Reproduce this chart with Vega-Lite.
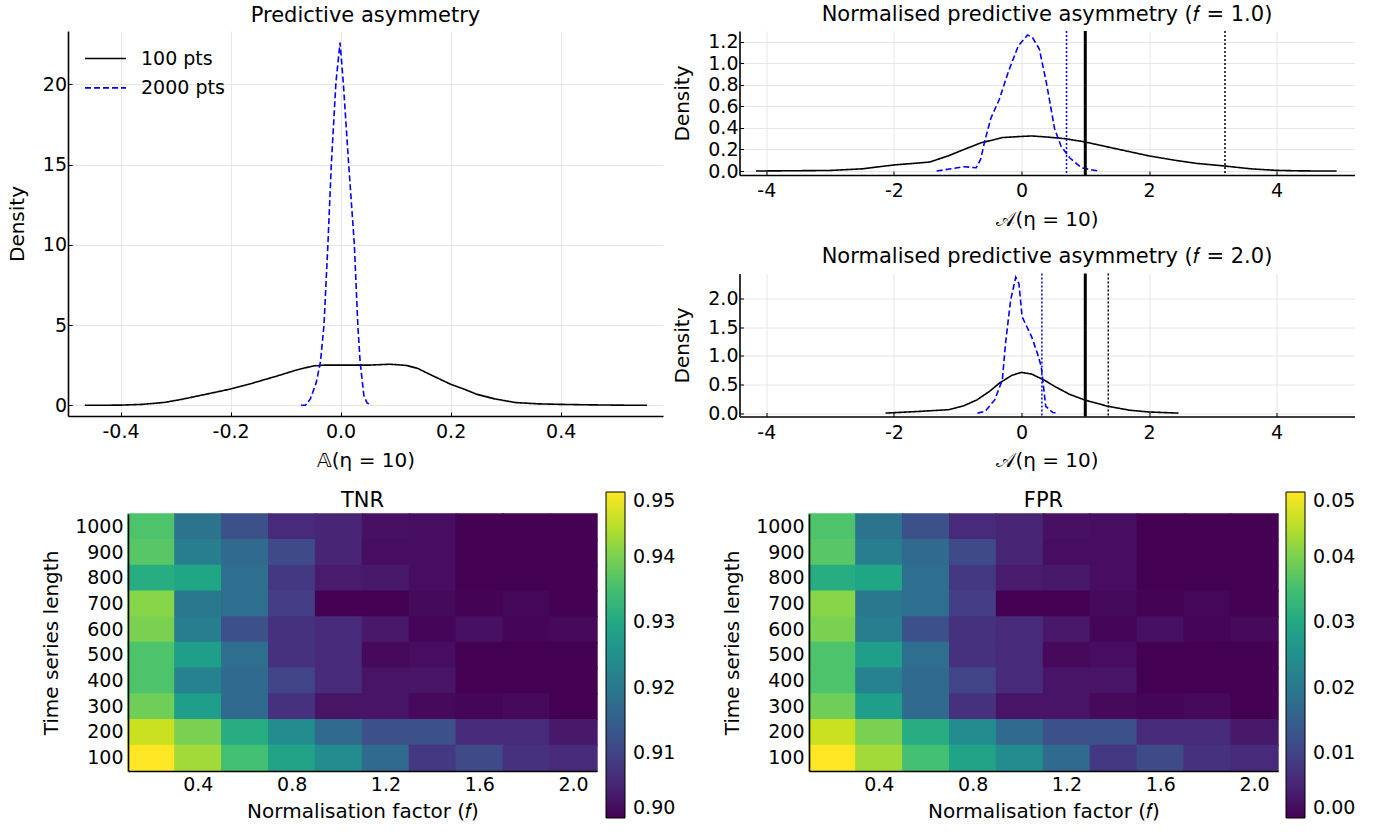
{
  "$schema": "https://vega.github.io/schema/vega-lite/v6.json",
  "background": "white",
  "padding": {"left": 7, "top": 3, "right": 0, "bottom": 0},
  "config": {
    "font": "DejaVu Sans",
    "view": {"stroke": null},
    "axis": {
      "labelFont": "DejaVu Sans", "titleFont": "DejaVu Sans",
      "labelFontSize": 19, "titleFontSize": 20, "titleFontWeight": "normal",
      "labelColor": "black", "titleColor": "black",
      "domainColor": "black", "domainWidth": 1.6,
      "tickColor": "black", "tickSize": -4, "tickWidth": 1,
      "gridColor": "#e6e6e6", "gridWidth": 1,
      "labelFlush": false, "labelOverlap": false
    },
    "axisX": {"labelPadding": 10.5, "titlePadding": 8.5},
    "axisY": {"labelPadding": 5.5, "titlePadding": 15},
    "title": {"font": "DejaVu Sans", "fontSize": 21, "fontWeight": "normal", "color": "black", "anchor": "middle", "offset": 5},
    "legend": {"labelFont": "DejaVu Sans", "labelColor": "black"}
  },
  "resolve": {"scale": {"color": "independent", "strokeDash": "independent"}, "legend": {"color": "independent", "strokeDash": "independent"}},
  "datasets": {
    "tl": [
      {"x": -0.465, "density": 0, "series": "100 pts"},
      {"x": -0.4, "density": 0.01, "series": "100 pts"},
      {"x": -0.36, "density": 0.06, "series": "100 pts"},
      {"x": -0.32, "density": 0.18, "series": "100 pts"},
      {"x": -0.289, "density": 0.37, "series": "100 pts"},
      {"x": -0.25, "density": 0.65, "series": "100 pts"},
      {"x": -0.202, "density": 1.0, "series": "100 pts"},
      {"x": -0.16, "density": 1.38, "series": "100 pts"},
      {"x": -0.115, "density": 1.83, "series": "100 pts"},
      {"x": -0.08, "density": 2.2, "series": "100 pts"},
      {"x": -0.05, "density": 2.45, "series": "100 pts"},
      {"x": -0.03, "density": 2.5, "series": "100 pts"},
      {"x": 0.0, "density": 2.5, "series": "100 pts"},
      {"x": 0.05, "density": 2.5, "series": "100 pts"},
      {"x": 0.09, "density": 2.56, "series": "100 pts"},
      {"x": 0.12, "density": 2.48, "series": "100 pts"},
      {"x": 0.14, "density": 2.3, "series": "100 pts"},
      {"x": 0.168, "density": 1.83, "series": "100 pts"},
      {"x": 0.2, "density": 1.31, "series": "100 pts"},
      {"x": 0.225, "density": 1.0, "series": "100 pts"},
      {"x": 0.247, "density": 0.69, "series": "100 pts"},
      {"x": 0.28, "density": 0.4, "series": "100 pts"},
      {"x": 0.318, "density": 0.17, "series": "100 pts"},
      {"x": 0.36, "density": 0.09, "series": "100 pts"},
      {"x": 0.397, "density": 0.06, "series": "100 pts"},
      {"x": 0.45, "density": 0.03, "series": "100 pts"},
      {"x": 0.5, "density": 0.01, "series": "100 pts"},
      {"x": 0.557, "density": 0, "series": "100 pts"},
      {"x": -0.072, "density": 0, "series": "2000 pts"},
      {"x": -0.064, "density": 0, "series": "2000 pts"},
      {"x": -0.055, "density": 0.4, "series": "2000 pts"},
      {"x": -0.0444, "density": 1.4, "series": "2000 pts"},
      {"x": -0.0366, "density": 2.7, "series": "2000 pts"},
      {"x": -0.0302, "density": 5, "series": "2000 pts"},
      {"x": -0.0231, "density": 10, "series": "2000 pts"},
      {"x": -0.0169, "density": 15, "series": "2000 pts"},
      {"x": -0.0085, "density": 20.1, "series": "2000 pts"},
      {"x": -0.001, "density": 22.6, "series": "2000 pts"},
      {"x": 0.0049, "density": 20.1, "series": "2000 pts"},
      {"x": 0.0147, "density": 15, "series": "2000 pts"},
      {"x": 0.025, "density": 10, "series": "2000 pts"},
      {"x": 0.0313, "density": 5, "series": "2000 pts"},
      {"x": 0.0355, "density": 2.7, "series": "2000 pts"},
      {"x": 0.0423, "density": 0.6, "series": "2000 pts"},
      {"x": 0.048, "density": 0.15, "series": "2000 pts"},
      {"x": 0.0566, "density": 0, "series": "2000 pts"}
    ],
    "tr1": [
      {"x": -4.16, "density": 0, "series": "100 pts"},
      {"x": -3.0, "density": 0.005, "series": "100 pts"},
      {"x": -2.5, "density": 0.02, "series": "100 pts"},
      {"x": -2.0, "density": 0.056, "series": "100 pts"},
      {"x": -1.44, "density": 0.083, "series": "100 pts"},
      {"x": -1.15, "density": 0.14, "series": "100 pts"},
      {"x": -0.9, "density": 0.2, "series": "100 pts"},
      {"x": -0.64, "density": 0.26, "series": "100 pts"},
      {"x": -0.3, "density": 0.31, "series": "100 pts"},
      {"x": -0.014, "density": 0.32, "series": "100 pts"},
      {"x": 0.16, "density": 0.325, "series": "100 pts"},
      {"x": 0.4, "density": 0.315, "series": "100 pts"},
      {"x": 0.68, "density": 0.3, "series": "100 pts"},
      {"x": 0.99, "density": 0.27, "series": "100 pts"},
      {"x": 1.3, "density": 0.23, "series": "100 pts"},
      {"x": 1.64, "density": 0.186, "series": "100 pts"},
      {"x": 2.0, "density": 0.14, "series": "100 pts"},
      {"x": 2.4, "density": 0.1, "series": "100 pts"},
      {"x": 2.74, "density": 0.071, "series": "100 pts"},
      {"x": 3.19, "density": 0.046, "series": "100 pts"},
      {"x": 3.6, "density": 0.02, "series": "100 pts"},
      {"x": 3.99, "density": 0.006, "series": "100 pts"},
      {"x": 4.4, "density": 0.001, "series": "100 pts"},
      {"x": 4.94, "density": 0, "series": "100 pts"},
      {"x": -1.33, "density": 0, "series": "2000 pts"},
      {"x": -1.0, "density": 0.03, "series": "2000 pts"},
      {"x": -0.9, "density": 0.04, "series": "2000 pts"},
      {"x": -0.71, "density": 0.03, "series": "2000 pts"},
      {"x": -0.64, "density": 0.11, "series": "2000 pts"},
      {"x": -0.57, "density": 0.29, "series": "2000 pts"},
      {"x": -0.48, "density": 0.49, "series": "2000 pts"},
      {"x": -0.35, "density": 0.66, "series": "2000 pts"},
      {"x": -0.2, "density": 0.93, "series": "2000 pts"},
      {"x": -0.05, "density": 1.16, "series": "2000 pts"},
      {"x": 0.095, "density": 1.26, "series": "2000 pts"},
      {"x": 0.17, "density": 1.24, "series": "2000 pts"},
      {"x": 0.28, "density": 1.13, "series": "2000 pts"},
      {"x": 0.39, "density": 0.82, "series": "2000 pts"},
      {"x": 0.52, "density": 0.39, "series": "2000 pts"},
      {"x": 0.62, "density": 0.23, "series": "2000 pts"},
      {"x": 0.76, "density": 0.12, "series": "2000 pts"},
      {"x": 0.94, "density": 0.03, "series": "2000 pts"},
      {"x": 1.2, "density": 0, "series": "2000 pts"}
    ],
    "tr2": [
      {"x": -2.13, "density": 0, "series": "100 pts"},
      {"x": -1.6, "density": 0.03, "series": "100 pts"},
      {"x": -1.14, "density": 0.06, "series": "100 pts"},
      {"x": -0.9, "density": 0.13, "series": "100 pts"},
      {"x": -0.7, "density": 0.23, "series": "100 pts"},
      {"x": -0.5, "density": 0.38, "series": "100 pts"},
      {"x": -0.35, "density": 0.52, "series": "100 pts"},
      {"x": -0.15, "density": 0.66, "series": "100 pts"},
      {"x": 0.0, "density": 0.71, "series": "100 pts"},
      {"x": 0.16, "density": 0.68, "series": "100 pts"},
      {"x": 0.35, "density": 0.58, "series": "100 pts"},
      {"x": 0.53, "density": 0.46, "series": "100 pts"},
      {"x": 0.75, "density": 0.33, "series": "100 pts"},
      {"x": 0.99, "density": 0.23, "series": "100 pts"},
      {"x": 1.35, "density": 0.12, "series": "100 pts"},
      {"x": 1.7, "density": 0.05, "series": "100 pts"},
      {"x": 2.0, "density": 0.02, "series": "100 pts"},
      {"x": 2.46, "density": 0, "series": "100 pts"},
      {"x": -0.69, "density": 0, "series": "2000 pts"},
      {"x": -0.57, "density": 0.03, "series": "2000 pts"},
      {"x": -0.42, "density": 0.23, "series": "2000 pts"},
      {"x": -0.3, "density": 0.58, "series": "2000 pts"},
      {"x": -0.25, "density": 1.22, "series": "2000 pts"},
      {"x": -0.17, "density": 1.97, "series": "2000 pts"},
      {"x": -0.09, "density": 2.37, "series": "2000 pts"},
      {"x": -0.04, "density": 2.26, "series": "2000 pts"},
      {"x": 0.01, "density": 1.68, "series": "2000 pts"},
      {"x": 0.16, "density": 1.33, "series": "2000 pts"},
      {"x": 0.25, "density": 1.04, "series": "2000 pts"},
      {"x": 0.31, "density": 0.81, "series": "2000 pts"},
      {"x": 0.38, "density": 0.12, "series": "2000 pts"},
      {"x": 0.49, "density": 0.01, "series": "2000 pts"},
      {"x": 0.58, "density": 0, "series": "2000 pts"}
    ],
    "vl1": [
      {"x": 1.0, "kind": "observed"},
      {"x": 0.706, "kind": "q2000"},
      {"x": 3.19, "kind": "q100"}
    ],
    "vl2": [
      {"x": 1.0, "kind": "observed"},
      {"x": 0.32, "kind": "q2000"},
      {"x": 1.36, "kind": "q100"}
    ],
    "heat": [
      {"n": 1000, "f": "0.2", "tnr": 0.936, "fpr": 0.036},
      {"n": 1000, "f": "0.4", "tnr": 0.919, "fpr": 0.019},
      {"n": 1000, "f": "0.6", "tnr": 0.912, "fpr": 0.012},
      {"n": 1000, "f": "0.8", "tnr": 0.906, "fpr": 0.006},
      {"n": 1000, "f": "1.0", "tnr": 0.905, "fpr": 0.005},
      {"n": 1000, "f": "1.2", "tnr": 0.902, "fpr": 0.002},
      {"n": 1000, "f": "1.4", "tnr": 0.9015, "fpr": 0.0015},
      {"n": 1000, "f": "1.6", "tnr": 0.9, "fpr": 0.0},
      {"n": 1000, "f": "1.8", "tnr": 0.9, "fpr": 0.0},
      {"n": 1000, "f": "2.0", "tnr": 0.9, "fpr": 0.0},
      {"n": 900, "f": "0.2", "tnr": 0.937, "fpr": 0.037},
      {"n": 900, "f": "0.4", "tnr": 0.921, "fpr": 0.021},
      {"n": 900, "f": "0.6", "tnr": 0.917, "fpr": 0.017},
      {"n": 900, "f": "0.8", "tnr": 0.911, "fpr": 0.011},
      {"n": 900, "f": "1.0", "tnr": 0.905, "fpr": 0.005},
      {"n": 900, "f": "1.2", "tnr": 0.9015, "fpr": 0.0015},
      {"n": 900, "f": "1.4", "tnr": 0.9015, "fpr": 0.0015},
      {"n": 900, "f": "1.6", "tnr": 0.9, "fpr": 0.0},
      {"n": 900, "f": "1.8", "tnr": 0.9, "fpr": 0.0},
      {"n": 900, "f": "2.0", "tnr": 0.9, "fpr": 0.0},
      {"n": 800, "f": "0.2", "tnr": 0.931, "fpr": 0.031},
      {"n": 800, "f": "0.4", "tnr": 0.9295, "fpr": 0.0295},
      {"n": 800, "f": "0.6", "tnr": 0.918, "fpr": 0.018},
      {"n": 800, "f": "0.8", "tnr": 0.908, "fpr": 0.008},
      {"n": 800, "f": "1.0", "tnr": 0.9035, "fpr": 0.0035},
      {"n": 800, "f": "1.2", "tnr": 0.903, "fpr": 0.003},
      {"n": 800, "f": "1.4", "tnr": 0.9015, "fpr": 0.0015},
      {"n": 800, "f": "1.6", "tnr": 0.9, "fpr": 0.0},
      {"n": 800, "f": "1.8", "tnr": 0.9, "fpr": 0.0},
      {"n": 800, "f": "2.0", "tnr": 0.9, "fpr": 0.0},
      {"n": 700, "f": "0.2", "tnr": 0.941, "fpr": 0.041},
      {"n": 700, "f": "0.4", "tnr": 0.92, "fpr": 0.02},
      {"n": 700, "f": "0.6", "tnr": 0.918, "fpr": 0.018},
      {"n": 700, "f": "0.8", "tnr": 0.909, "fpr": 0.009},
      {"n": 700, "f": "1.0", "tnr": 0.9, "fpr": 0.0},
      {"n": 700, "f": "1.2", "tnr": 0.9, "fpr": 0.0},
      {"n": 700, "f": "1.4", "tnr": 0.9012, "fpr": 0.0012},
      {"n": 700, "f": "1.6", "tnr": 0.9003, "fpr": 0.0003},
      {"n": 700, "f": "1.8", "tnr": 0.9008, "fpr": 0.0008},
      {"n": 700, "f": "2.0", "tnr": 0.9, "fpr": 0.0},
      {"n": 600, "f": "0.2", "tnr": 0.94, "fpr": 0.04},
      {"n": 600, "f": "0.4", "tnr": 0.921, "fpr": 0.021},
      {"n": 600, "f": "0.6", "tnr": 0.912, "fpr": 0.012},
      {"n": 600, "f": "0.8", "tnr": 0.907, "fpr": 0.007},
      {"n": 600, "f": "1.0", "tnr": 0.906, "fpr": 0.006},
      {"n": 600, "f": "1.2", "tnr": 0.903, "fpr": 0.003},
      {"n": 600, "f": "1.4", "tnr": 0.9005, "fpr": 0.0005},
      {"n": 600, "f": "1.6", "tnr": 0.902, "fpr": 0.002},
      {"n": 600, "f": "1.8", "tnr": 0.9005, "fpr": 0.0005},
      {"n": 600, "f": "2.0", "tnr": 0.901, "fpr": 0.001},
      {"n": 500, "f": "0.2", "tnr": 0.936, "fpr": 0.036},
      {"n": 500, "f": "0.4", "tnr": 0.928, "fpr": 0.028},
      {"n": 500, "f": "0.6", "tnr": 0.918, "fpr": 0.018},
      {"n": 500, "f": "0.8", "tnr": 0.907, "fpr": 0.007},
      {"n": 500, "f": "1.0", "tnr": 0.906, "fpr": 0.006},
      {"n": 500, "f": "1.2", "tnr": 0.901, "fpr": 0.001},
      {"n": 500, "f": "1.4", "tnr": 0.9015, "fpr": 0.0015},
      {"n": 500, "f": "1.6", "tnr": 0.9, "fpr": 0.0},
      {"n": 500, "f": "1.8", "tnr": 0.9, "fpr": 0.0},
      {"n": 500, "f": "2.0", "tnr": 0.9, "fpr": 0.0},
      {"n": 400, "f": "0.2", "tnr": 0.936, "fpr": 0.036},
      {"n": 400, "f": "0.4", "tnr": 0.922, "fpr": 0.022},
      {"n": 400, "f": "0.6", "tnr": 0.917, "fpr": 0.017},
      {"n": 400, "f": "0.8", "tnr": 0.91, "fpr": 0.01},
      {"n": 400, "f": "1.0", "tnr": 0.906, "fpr": 0.006},
      {"n": 400, "f": "1.2", "tnr": 0.9025, "fpr": 0.0025},
      {"n": 400, "f": "1.4", "tnr": 0.9025, "fpr": 0.0025},
      {"n": 400, "f": "1.6", "tnr": 0.9, "fpr": 0.0},
      {"n": 400, "f": "1.8", "tnr": 0.9, "fpr": 0.0},
      {"n": 400, "f": "2.0", "tnr": 0.9, "fpr": 0.0},
      {"n": 300, "f": "0.2", "tnr": 0.939, "fpr": 0.039},
      {"n": 300, "f": "0.4", "tnr": 0.928, "fpr": 0.028},
      {"n": 300, "f": "0.6", "tnr": 0.917, "fpr": 0.017},
      {"n": 300, "f": "0.8", "tnr": 0.907, "fpr": 0.007},
      {"n": 300, "f": "1.0", "tnr": 0.9025, "fpr": 0.0025},
      {"n": 300, "f": "1.2", "tnr": 0.9025, "fpr": 0.0025},
      {"n": 300, "f": "1.4", "tnr": 0.901, "fpr": 0.001},
      {"n": 300, "f": "1.6", "tnr": 0.9005, "fpr": 0.0005},
      {"n": 300, "f": "1.8", "tnr": 0.901, "fpr": 0.001},
      {"n": 300, "f": "2.0", "tnr": 0.9, "fpr": 0.0},
      {"n": 200, "f": "0.2", "tnr": 0.946, "fpr": 0.046},
      {"n": 200, "f": "0.4", "tnr": 0.94, "fpr": 0.04},
      {"n": 200, "f": "0.6", "tnr": 0.931, "fpr": 0.031},
      {"n": 200, "f": "0.8", "tnr": 0.924, "fpr": 0.024},
      {"n": 200, "f": "1.0", "tnr": 0.917, "fpr": 0.017},
      {"n": 200, "f": "1.2", "tnr": 0.912, "fpr": 0.012},
      {"n": 200, "f": "1.4", "tnr": 0.912, "fpr": 0.012},
      {"n": 200, "f": "1.6", "tnr": 0.906, "fpr": 0.006},
      {"n": 200, "f": "1.8", "tnr": 0.906, "fpr": 0.006},
      {"n": 200, "f": "2.0", "tnr": 0.903, "fpr": 0.003},
      {"n": 100, "f": "0.2", "tnr": 0.95, "fpr": 0.05},
      {"n": 100, "f": "0.4", "tnr": 0.943, "fpr": 0.043},
      {"n": 100, "f": "0.6", "tnr": 0.935, "fpr": 0.035},
      {"n": 100, "f": "0.8", "tnr": 0.929, "fpr": 0.029},
      {"n": 100, "f": "1.0", "tnr": 0.924, "fpr": 0.024},
      {"n": 100, "f": "1.2", "tnr": 0.917, "fpr": 0.017},
      {"n": 100, "f": "1.4", "tnr": 0.908, "fpr": 0.008},
      {"n": 100, "f": "1.6", "tnr": 0.911, "fpr": 0.011},
      {"n": 100, "f": "1.8", "tnr": 0.907, "fpr": 0.007},
      {"n": 100, "f": "2.0", "tnr": 0.906, "fpr": 0.006}
    ]
  },
  "spacing": 18,
  "vconcat": [
    {
      "resolve": {"scale": {"color": "independent", "strokeDash": "independent"}, "legend": {"color": "independent", "strokeDash": "independent"}},
      "hconcat": [
        {
          "width": 595, "height": 385,
          "title": "Predictive asymmetry",
          "data": {"name": "tl"},
          "mark": {"type": "line", "strokeWidth": 1.6, "clip": true},
          "encoding": {
            "x": {"field": "x", "type": "quantitative",
              "scale": {"domain": [-0.4955, 0.586], "nice": false, "zero": false},
              "axis": {"values": [-0.4, -0.2, 0, 0.2, 0.4], "title": "𝔸(η = 10)", "labelExpr": "replace(format(datum.value, '.1f'), '\u2212', '-')"}},
            "y": {"field": "density", "type": "quantitative",
              "scale": {"domain": [-0.667, 23.32], "nice": false, "zero": false},
              "axis": {"values": [0, 5, 10, 15, 20], "title": "Density"}},
            "color": {"field": "series", "type": "nominal",
              "scale": {"domain": ["100 pts", "2000 pts"], "range": ["black", "#0000ff"]},
              "legend": {"orient": "none", "legendX": 16, "legendY": 16.5, "title": null, "symbolType": "stroke", "symbolSize": 1681, "symbolStrokeWidth": 1.6, "labelFontSize": 19, "labelOffset": 14, "clipHeight": 22, "rowPadding": 7.4}},
            "strokeDash": {"field": "series", "type": "nominal",
              "scale": {"domain": ["100 pts", "2000 pts"], "range": [[1, 0], [6, 3]]},
              "legend": {"orient": "none", "legendX": 16, "legendY": 16.5, "title": null, "symbolType": "stroke", "symbolSize": 1681, "symbolStrokeWidth": 1.6, "labelFontSize": 19, "labelOffset": 14, "clipHeight": 22, "rowPadding": 7.4}}
          }
        },
        {
          "resolve": {"scale": {"color": "independent", "strokeDash": "independent"}, "legend": {"color": "independent", "strokeDash": "independent"}},
          "vconcat": [
            {
              "width": 615, "height": 144,
              "title": "Normalised predictive asymmetry (𝑓 = 1.0)",
              "layer": [
                {
                  "data": {"name": "tr1"},
                  "mark": {"type": "line", "strokeWidth": 1.6, "clip": true},
                  "encoding": {
                    "x": {"field": "x", "type": "quantitative",
                      "scale": {"domain": [-4.42, 5.22], "nice": false, "zero": false},
                      "axis": {"values": [-4, -2, 0, 2, 4], "title": "𝒜(η = 10)", "labelExpr": "replace(format(datum.value, 'd'), '\u2212', '-')"}},
                    "y": {"field": "density", "type": "quantitative",
                      "scale": {"domain": [-0.037, 1.298], "nice": false, "zero": false},
                      "axis": {"values": [0, 0.2, 0.4, 0.6, 0.8, 1.0, 1.2], "format": ".1f", "title": "Density"}},
                    "color": {"field": "series", "type": "nominal",
                      "scale": {"domain": ["100 pts", "2000 pts"], "range": ["black", "#0000ff"]}, "legend": null},
                    "strokeDash": {"field": "series", "type": "nominal",
                      "scale": {"domain": ["100 pts", "2000 pts"], "range": [[1, 0], [6, 3]]}, "legend": null}
                  }
                },
                {
                  "data": {"name": "vl1"},
                  "transform": [{"filter": "datum.kind === 'observed'"}],
                  "mark": {"type": "rule", "color": "black", "strokeWidth": 3},
                  "encoding": {"x": {"field": "x", "type": "quantitative"}}
                },
                {
                  "data": {"name": "vl1"},
                  "transform": [{"filter": "datum.kind === 'q2000'"}],
                  "mark": {"type": "rule", "color": "#0000ff", "strokeWidth": 1.5, "strokeDash": [2, 2]},
                  "encoding": {"x": {"field": "x", "type": "quantitative"}}
                },
                {
                  "data": {"name": "vl1"},
                  "transform": [{"filter": "datum.kind === 'q100'"}],
                  "mark": {"type": "rule", "color": "black", "strokeWidth": 1.5, "strokeDash": [2, 2]},
                  "encoding": {"x": {"field": "x", "type": "quantitative"}}
                }
              ]
            },
            {
              "width": 615, "height": 143,
              "title": "Normalised predictive asymmetry (𝑓 = 2.0)",
              "layer": [
                {
                  "data": {"name": "tr2"},
                  "mark": {"type": "line", "strokeWidth": 1.6, "clip": true},
                  "encoding": {
                    "x": {"field": "x", "type": "quantitative",
                      "scale": {"domain": [-4.42, 5.22], "nice": false, "zero": false},
                      "axis": {"values": [-4, -2, 0, 2, 4], "title": "𝒜(η = 10)", "labelExpr": "replace(format(datum.value, 'd'), '\u2212', '-')"}},
                    "y": {"field": "density", "type": "quantitative",
                      "scale": {"domain": [-0.059, 2.435], "nice": false, "zero": false},
                      "axis": {"values": [0, 0.5, 1.0, 1.5, 2.0], "format": ".1f", "title": "Density"}},
                    "color": {"field": "series", "type": "nominal",
                      "scale": {"domain": ["100 pts", "2000 pts"], "range": ["black", "#0000ff"]}, "legend": null},
                    "strokeDash": {"field": "series", "type": "nominal",
                      "scale": {"domain": ["100 pts", "2000 pts"], "range": [[1, 0], [6, 3]]}, "legend": null}
                  }
                },
                {
                  "data": {"name": "vl2"},
                  "transform": [{"filter": "datum.kind === 'observed'"}],
                  "mark": {"type": "rule", "color": "black", "strokeWidth": 3},
                  "encoding": {"x": {"field": "x", "type": "quantitative"}}
                },
                {
                  "data": {"name": "vl2"},
                  "transform": [{"filter": "datum.kind === 'q2000'"}],
                  "mark": {"type": "rule", "color": "#0000ff", "strokeWidth": 1.5, "strokeDash": [2, 2]},
                  "encoding": {"x": {"field": "x", "type": "quantitative"}}
                },
                {
                  "data": {"name": "vl2"},
                  "transform": [{"filter": "datum.kind === 'q100'"}],
                  "mark": {"type": "rule", "color": "black", "strokeWidth": 1.5, "strokeDash": [2, 2]},
                  "encoding": {"x": {"field": "x", "type": "quantitative"}}
                }
              ]
            }
          ],
          "spacing": 16.5
        }
      ],
      "spacing": 9.5
    },
    {
      "resolve": {"scale": {"color": "independent"}, "legend": {"color": "independent"}},
      "spacing": -28,
      "hconcat": [
        {
          "width": 1, "height": 1,
          "data": {"values": []},
          "mark": {"type": "point", "opacity": 0}
        },
        {
          "resolve": {"scale": {"color": "independent"}, "legend": {"color": "independent"}},
          "spacing": 46,
          "hconcat": [
            {
              "width": 469, "height": 257,
              "title": {"text": "TNR", "offset": -18.5},
              "data": {"name": "heat"},
              "mark": {"type": "rect", "width": {"band": 1.03}, "height": {"band": 1.05}},
              "encoding": {
                "x": {"field": "f", "type": "ordinal",
                  "scale": {"paddingInner": 0, "paddingOuter": 0},
                  "axis": {"values": ["0.4", "0.8", "1.2", "1.6", "2.0"], "title": "Normalisation factor (𝑓)", "labelAngle": 0, "ticks": false, "grid": false, "labelPadding": 4, "titlePadding": 7}},
                "y": {"field": "n", "type": "ordinal", "sort": "descending",
                  "scale": {"paddingInner": 0, "paddingOuter": 0},
                  "axis": {"title": "Time series length", "ticks": false, "grid": false, "labelPadding": 5, "titlePadding": 13}},
                "color": {"field": "tnr", "type": "quantitative",
                  "scale": {"scheme": "viridis", "domain": [0.9, 0.95], "clamp": true},
                  "legend": {"orient": "none", "legendX": 478, "legendY": -22, "direction": "vertical", "gradientLength": 326, "gradientThickness": 19, "title": null, "values": [0.9, 0.91, 0.92, 0.93, 0.94, 0.95], "format": ".2f", "labelFontSize": 19, "gradientStrokeColor": "black", "gradientStrokeWidth": 1, "labelOffset": 8}}
              }
            },
            {
              "width": 469, "height": 257,
              "title": {"text": "FPR", "offset": -18.5},
              "data": {"name": "heat"},
              "mark": {"type": "rect", "width": {"band": 1.03}, "height": {"band": 1.05}},
              "encoding": {
                "x": {"field": "f", "type": "ordinal",
                  "scale": {"paddingInner": 0, "paddingOuter": 0},
                  "axis": {"values": ["0.4", "0.8", "1.2", "1.6", "2.0"], "title": "Normalisation factor (𝑓)", "labelAngle": 0, "ticks": false, "grid": false, "labelPadding": 4, "titlePadding": 7}},
                "y": {"field": "n", "type": "ordinal", "sort": "descending",
                  "scale": {"paddingInner": 0, "paddingOuter": 0},
                  "axis": {"title": "Time series length", "ticks": false, "grid": false, "labelPadding": 5, "titlePadding": 13}},
                "color": {"field": "fpr", "type": "quantitative",
                  "scale": {"scheme": "viridis", "domain": [0, 0.05], "clamp": true},
                  "legend": {"orient": "none", "legendX": 477, "legendY": -22, "direction": "vertical", "gradientLength": 326, "gradientThickness": 19, "title": null, "values": [0, 0.01, 0.02, 0.03, 0.04, 0.05], "format": ".2f", "labelFontSize": 19, "gradientStrokeColor": "black", "gradientStrokeWidth": 1, "labelOffset": 8}}
              }
            }
          ]
        }
      ]
    }
  ]
}
